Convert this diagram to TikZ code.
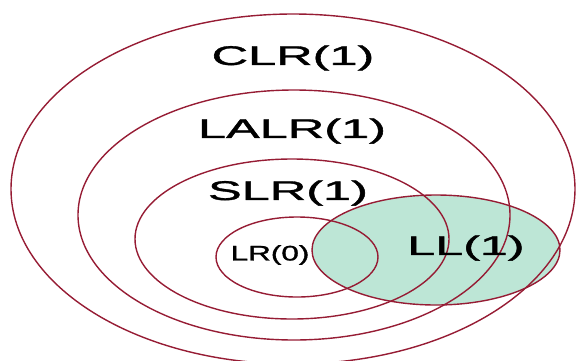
\documentclass[tikz,border=0pt]{standalone}
\usepackage{fontspec}
\setmainfont{Liberation Sans}
\newfontface\lblface{Liberation Sans}[FakeBold=1.2]
\usepackage{graphicx}
\usetikzlibrary{positioning}

\definecolor{setred}{RGB}{150,28,52}
\definecolor{llgreen}{RGB}{189,230,214}
\newcommand{\wide}[2]{\scalebox{#1}[1]{#2}}

\begin{document}
\begin{tikzpicture}[
  x=1pt, y=-1pt,
  set/.style={draw=setred, line width=1.4pt},
  big/.style={inner sep=0pt, font=\lblface\fontsize{27}{30}\selectfont},
  small/.style={inner sep=0pt, font=\lblface\fontsize{21}{24}\selectfont}
]
\useasboundingbox (0,0) rectangle (576,360);

% LL(1) set, filled first so the outlines stay on top
\path[set, fill=llgreen] (436,250) ellipse (124 and 55);

% nested LR classes
\draw[set] (293,189) ellipse (282 and 175);
\draw[set] (294,215) ellipse (216 and 125);
\draw[set] (292,239) ellipse (157 and 80);
\draw[set] (297,257) ellipse (81 and 40);

\node[big] (clr) at (293,58) {\wide{1.87}{CLR(1)}};
\node[big] (lalr) at (292,131) {\wide{1.87}{LALR(1)}};
\node[big] (slr) at (288,193) {\wide{1.87}{SLR(1)}};
\node[small] (lr0) at (270,255) {\wide{1.5}{LR(0)}};
\node[big] (ll) at (466,248) {\wide{1.86}{LL(1)}};

\end{tikzpicture}
\end{document}
